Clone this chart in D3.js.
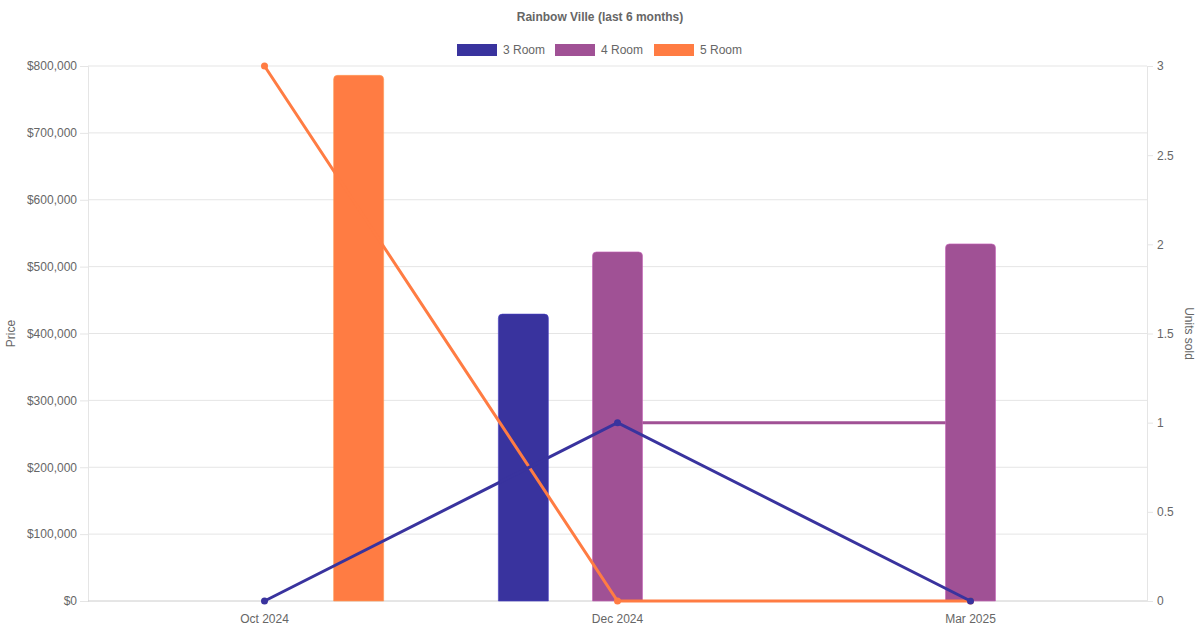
<!DOCTYPE html>
<html>
<head>
<meta charset="utf-8">
<script src="https://cdn.jsdelivr.net/npm/d3@7"></script>
<style>
  html, body { margin: 0; padding: 0; background: #fff; }
  svg { display: block; font-family: "Liberation Sans", Arial, sans-serif; }
</style>
</head>
<body>
<div id="chart"></div>
<script>
// Chart data
const months = ['Oct 2024', 'Dec 2024', 'Mar 2025'];
const roomTypes = ['3 Room', '4 Room', '5 Room'];
const colors = ['#39339e', '#a05195', '#ff7c43'];

// median price per month (null = no sale)
const price3Room = [null, 429000, null];
const price4Room = [null, 522000, 534000];
const price5Room = [786000, null, null];

// units sold per month
const units3Room = [0, 1, 0];
const units4Room = [null, 1, 1];
const units5Room = [3, 0, 0];

const priceTicks = [0, 100000, 200000, 300000, 400000, 500000, 600000, 700000, 800000];
const unitTicks = [0, 0.5, 1, 1.5, 2, 2.5, 3];

const prices = [price3Room, price4Room, price5Room];
const units = [units3Room, units4Room, units5Room];

const width = 1200, height = 630;
const margin = { top: 66, right: 53, bottom: 29, left: 88 };
const textColor = '#666';
const gridColor = '#e5e5e5';

const svg = d3.select('#chart').append('svg')
    .attr('width', width)
    .attr('height', height);

const x = d3.scaleBand()
    .domain(months)
    .range([margin.left, width - margin.right]);

const xInner = d3.scaleBand()
    .domain(roomTypes)
    .range([x.bandwidth() * 0.1, x.bandwidth() * 0.9]);

const yPrice = d3.scaleLinear()
    .domain([0, 800000])
    .range([height - margin.bottom, margin.top]);

const yUnits = d3.scaleLinear()
    .domain([0, 3])
    .range([height - margin.bottom, margin.top]);

// Title
svg.append('text')
    .attr('x', width / 2)
    .attr('y', 21)
    .attr('text-anchor', 'middle')
    .attr('font-size', 12)
    .attr('font-weight', 'bold')
    .attr('fill', textColor)
    .text('Rainbow Ville (last 6 months)');

// Legend
const legendItems = [
    { name: roomTypes[0], x: 457 },
    { name: roomTypes[1], x: 555 },
    { name: roomTypes[2], x: 654 }
];
const legend = svg.append('g').attr('class', 'legend');
legendItems.forEach((d, i) => {
    legend.append('rect')
        .attr('x', d.x)
        .attr('y', 44)
        .attr('width', 40)
        .attr('height', 12)
        .attr('fill', colors[i]);
    legend.append('text')
        .attr('x', d.x + 46)
        .attr('y', 54)
        .attr('font-size', 12)
        .attr('fill', textColor)
        .text(d.name);
});

// Left axis with grid
const leftAxis = svg.append('g')
    .attr('transform', `translate(${margin.left},0)`)
    .call(d3.axisLeft(yPrice)
        .tickValues(priceTicks)
        .tickSize(8)
        .tickPadding(3)
        .tickFormat(d => '$' + d3.format(',')(d)));
leftAxis.select('.domain').attr('stroke', gridColor);
leftAxis.selectAll('.tick line').attr('stroke', gridColor);
leftAxis.selectAll('.tick text').attr('fill', textColor).attr('font-size', 12);

svg.append('g')
    .attr('class', 'grid')
    .selectAll('line')
    .data(priceTicks)
    .join('line')
    .attr('x1', margin.left)
    .attr('x2', width - margin.right)
    .attr('y1', d => yPrice(d))
    .attr('y2', d => yPrice(d))
    .attr('stroke', d => d === 0 ? '#ccc' : gridColor);

// Right axis
const rightAxis = svg.append('g')
    .attr('transform', `translate(${width - margin.right},0)`)
    .call(d3.axisRight(yUnits)
        .tickValues(unitTicks)
        .tickSize(6)
        .tickPadding(4)
        .tickFormat(d => d3.format('')(d)));
rightAxis.select('.domain').attr('stroke', gridColor);
rightAxis.selectAll('.tick line').attr('stroke', gridColor);
rightAxis.selectAll('.tick text').attr('fill', textColor).attr('font-size', 12);

// Bottom axis labels
const bottomAxis = svg.append('g')
    .attr('transform', `translate(0,${height - margin.bottom})`)
    .call(d3.axisBottom(x).tickSize(0).tickPadding(13));
bottomAxis.select('.domain').remove();
bottomAxis.selectAll('.tick text').attr('fill', textColor).attr('font-size', 12);

// Axis titles
svg.append('text')
    .attr('transform', `translate(15,${(margin.top + height - margin.bottom) / 2}) rotate(-90)`)
    .attr('text-anchor', 'middle')
    .attr('font-size', 12)
    .attr('fill', textColor)
    .text('Price');

svg.append('text')
    .attr('transform', `translate(1185,${(margin.top + height - margin.bottom) / 2}) rotate(90)`)
    .attr('text-anchor', 'middle')
    .attr('font-size', 12)
    .attr('fill', textColor)
    .text('Units sold');

const line = d3.line()
    .defined(d => d.v !== null)
    .x(d => x(d.m) + x.bandwidth() / 2)
    .y(d => yUnits(d.v));

function drawLine(i) {
    const pts = months.map((m, j) => ({ m: m, v: units[i][j] }));
    const g = svg.append('g').attr('class', 'line-' + i);
    g.append('path')
        .datum(pts)
        .attr('fill', 'none')
        .attr('stroke', colors[i])
        .attr('stroke-width', 3)
        .attr('d', line);
    g.selectAll('circle')
        .data(pts.filter(d => d.v !== null))
        .join('circle')
        .attr('cx', d => x(d.m) + x.bandwidth() / 2)
        .attr('cy', d => yUnits(d.v))
        .attr('r', 3.5)
        .attr('fill', colors[i]);
}

// 4 Room line sits behind the bars
drawLine(1);

// Bars with rounded tops
const barWidth = Math.min(xInner.bandwidth() * 0.9, 50);
const r = 4;
const barData = [];
roomTypes.forEach((t, i) => {
    months.forEach((m, j) => {
        if (prices[i][j] !== null) barData.push({ type: t, i: i, m: m, v: prices[i][j] });
    });
});

svg.append('g')
    .attr('class', 'bars')
    .selectAll('path')
    .data(barData)
    .join('path')
    .attr('fill', d => colors[d.i])
    .attr('stroke', d => d3.color(colors[d.i]).brighter(0.6))
    .attr('stroke-opacity', 0.6)
    .attr('stroke-width', 1)
    .attr('d', d => {
        const x0 = x(d.m) + xInner(d.type) + (xInner.bandwidth() - barWidth) / 2;
        const x1 = x0 + barWidth;
        const y0 = yPrice(0);
        const y1 = yPrice(d.v);
        return `M${x0},${y0}V${y1 + r}Q${x0},${y1} ${x0 + r},${y1}H${x1 - r}Q${x1},${y1} ${x1},${y1 + r}V${y0}Z`;
    });

// 5 Room then 3 Room lines on top
drawLine(2);
drawLine(0);
</script>
</body>
</html>
